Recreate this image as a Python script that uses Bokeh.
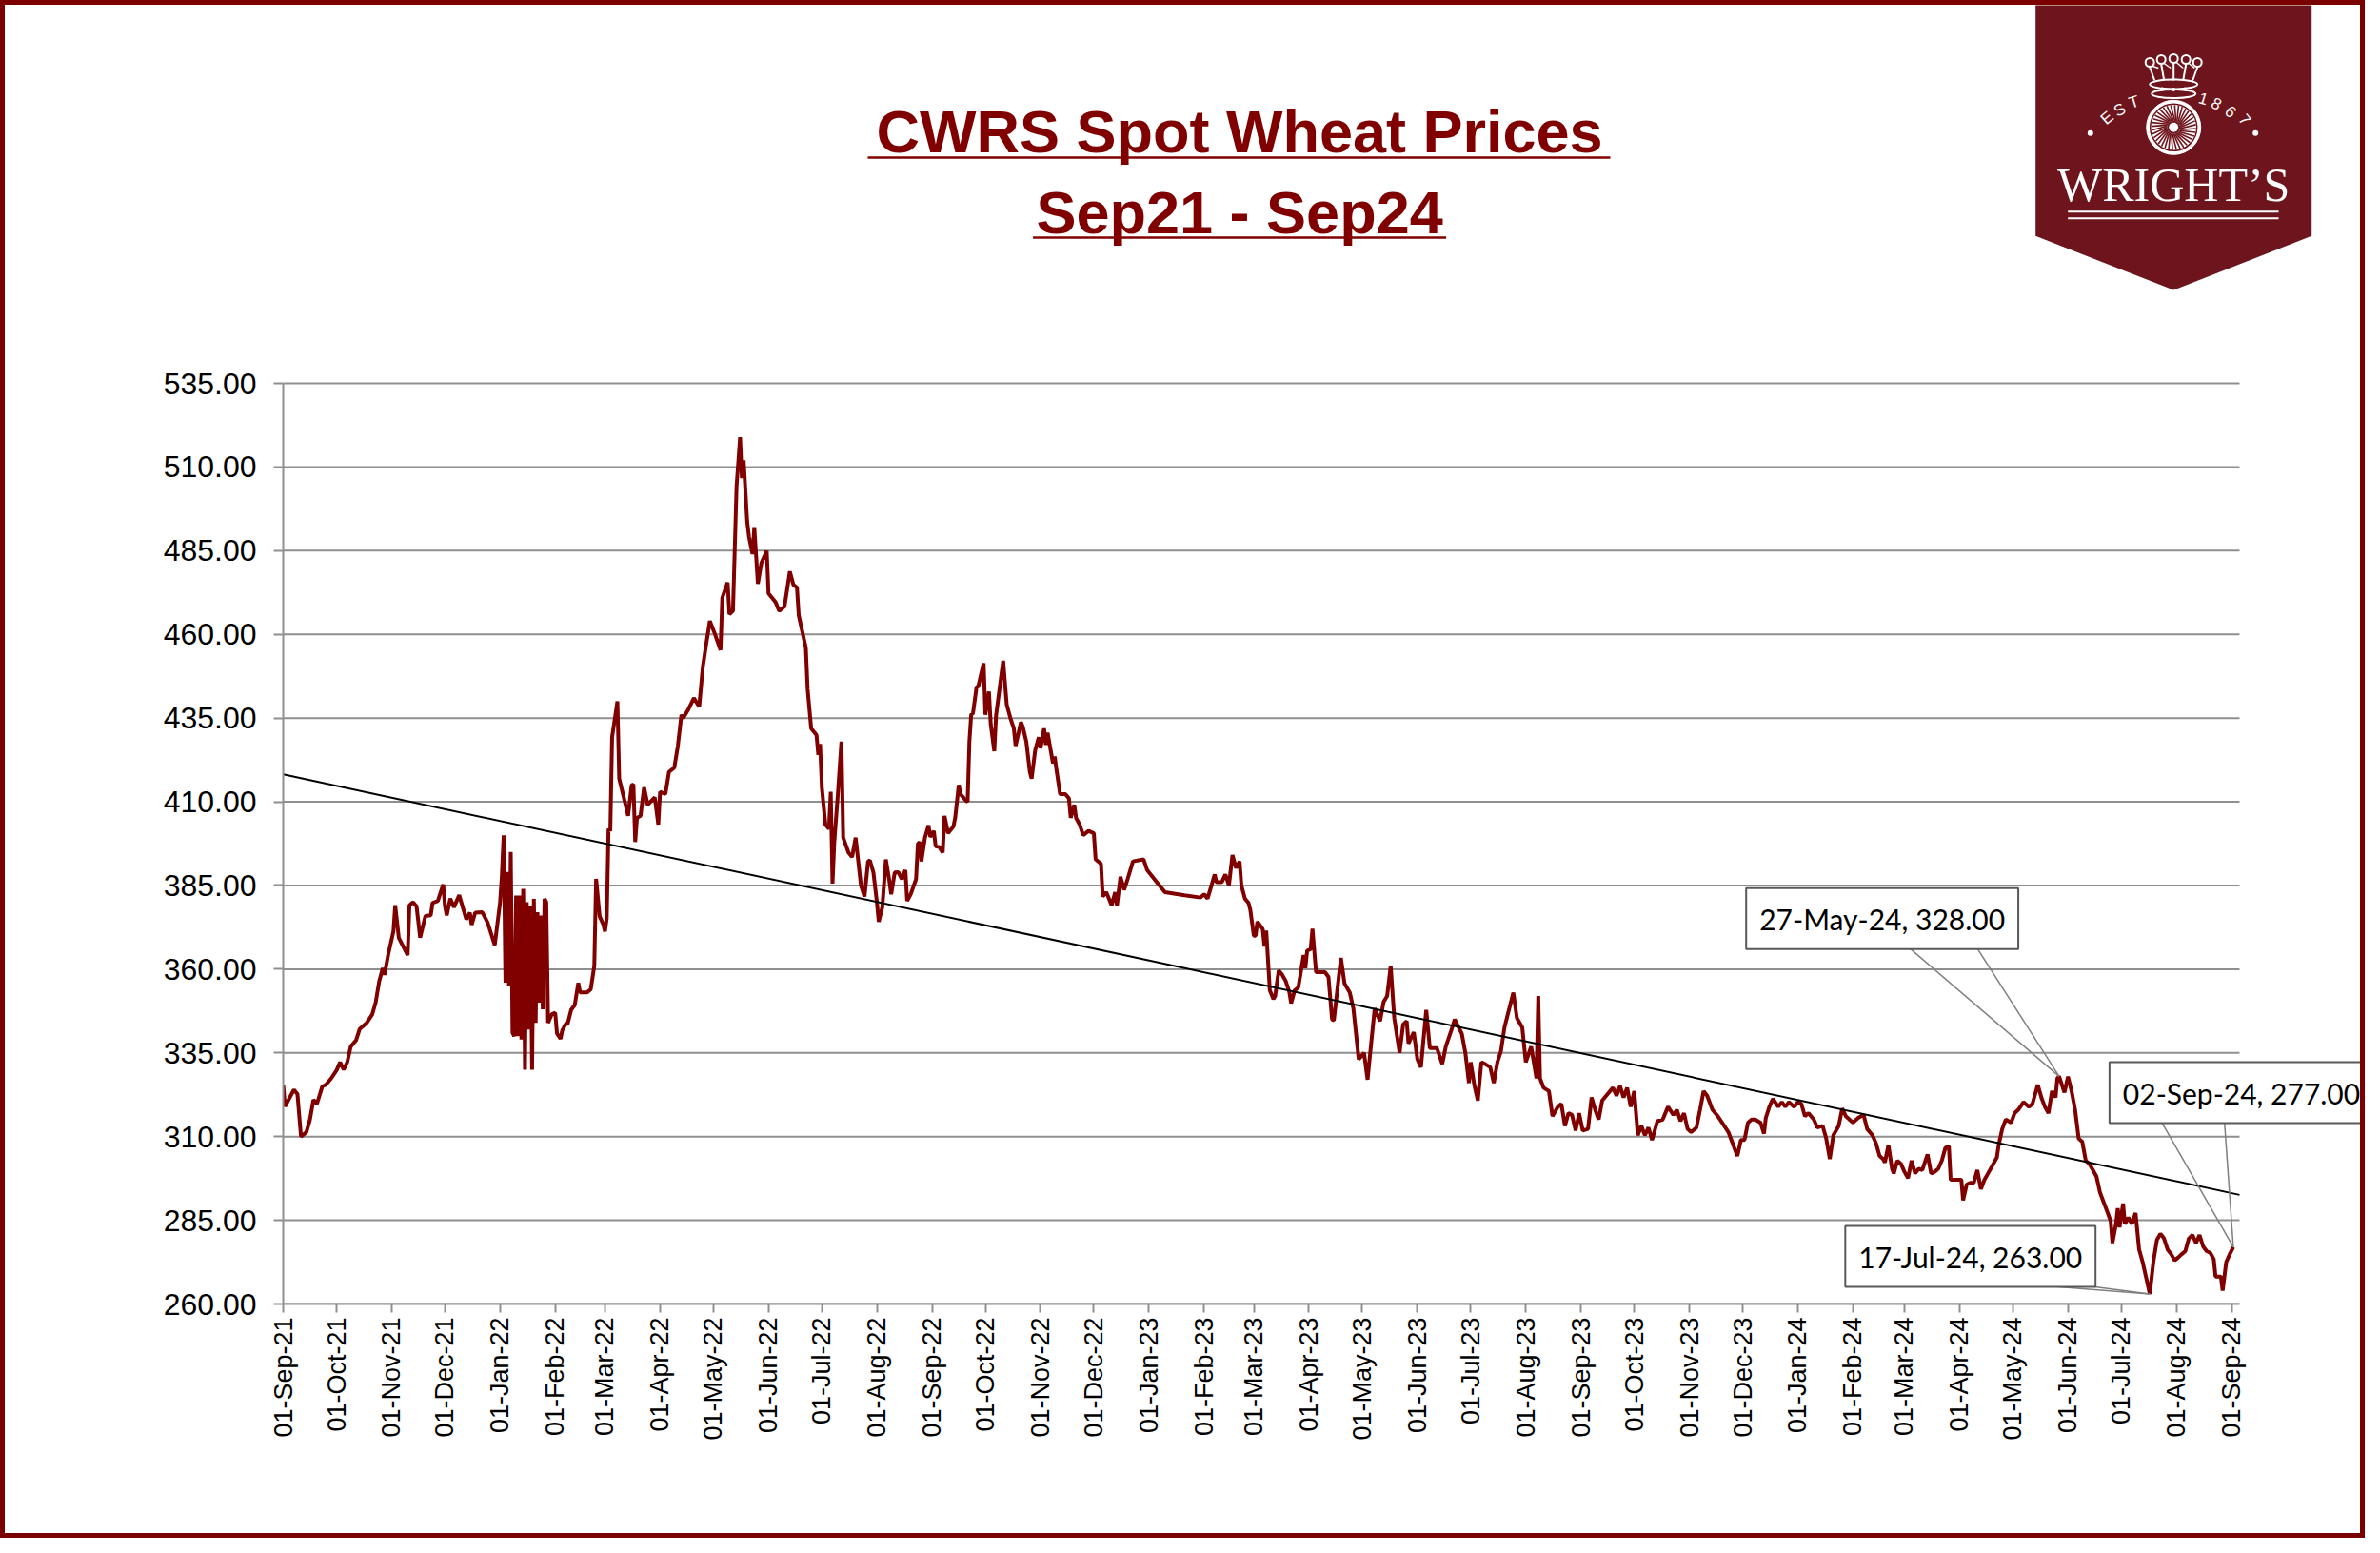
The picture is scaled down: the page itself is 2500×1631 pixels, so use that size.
import math
import numpy as np
import pandas as pd
from bokeh.plotting import figure
from bokeh.layouts import column
from bokeh.models import (ColumnDataSource, Range1d, FixedTicker, NumeralTickFormatter,
                          DatetimeTickFormatter, Label)
from bokeh.core.properties import value
from bokeh.embed import file_html
from bokeh.resources import INLINE

# ---------------- data ----------------
title_line1 = "CWRS Spot Wheat Prices"
title_line2 = "Sep21 - Sep24"
start_date = pd.Timestamp("2021-09-01")

day_offset = [
    0, 1, 4, 6, 8, 10, 13, 15, 17, 19,
    22, 24, 27, 30, 32, 34, 36, 38, 41, 43,
    47, 50, 52, 54, 56, 57, 59, 62, 63, 65,
    70, 71, 73, 75, 77, 80, 83, 84, 87, 90,
    91, 92, 94, 96, 99, 101, 103, 105, 106, 108,
    112, 115, 119, 122, 123, 124, 125, 126, 127, 128,
    129, 130, 131, 132, 133, 134, 135, 136, 137, 138,
    139, 140, 141, 142, 143, 144, 145, 146, 147, 148,
    149, 151, 153, 154, 156, 157, 159, 160, 162, 164,
    166, 167, 171, 173, 175, 176, 178, 180, 181, 182,
    183, 184, 185, 188, 189, 192, 194, 196, 197, 198,
    199, 201, 203, 205, 209, 211, 212, 215, 217, 220,
    222, 224, 225, 228, 231, 234, 236, 238, 240, 243,
    246, 247, 250, 251, 253, 255, 257, 258, 259, 261,
    262, 264, 265, 267, 269, 272, 273, 277, 279, 282,
    285, 287, 289, 290, 294, 295, 297, 300, 301, 302,
    303, 305, 307, 308, 309, 310, 312, 314, 315, 318,
    320, 322, 325, 327, 329, 330, 332, 334, 335, 337,
    339, 341, 342, 344, 346, 348, 350, 351, 353, 356,
    357, 358, 359, 361, 363, 364, 366, 367, 369, 371,
    372, 374, 377, 378, 380, 381, 384, 385, 386, 387,
    388, 390, 391, 394, 395, 396, 397, 398, 400, 401,
    405, 407, 409, 411, 412, 415, 416, 418, 420, 421,
    423, 425, 426, 428, 429, 430, 433, 434, 435, 437,
    440, 442, 443, 445, 446, 448, 450, 453, 456, 457,
    460, 461, 463, 464, 466, 468, 469, 471, 473, 475,
    478, 484, 486, 491, 496, 507, 516, 518, 520, 524,
    525, 528, 530, 532, 533, 534, 536, 538, 539, 541,
    543, 544, 546, 547, 548, 551, 552, 553, 555, 557,
    558, 560, 562, 564, 566, 567, 569, 571, 572, 574,
    575, 576, 578, 579, 581, 586, 588, 590, 591, 593,
    595, 597, 600, 602, 605, 608, 610, 612, 614, 617,
    619, 621, 623, 625, 628, 630, 632, 633, 636, 638,
    640, 643, 645, 649, 652, 654, 657, 659, 663, 665,
    667, 668, 670, 672, 674, 676, 679, 681, 683, 685,
    687, 689, 692, 694, 697, 699, 702, 705, 706, 707,
    709, 712, 714, 717, 719, 721, 723, 725, 727, 729,
    731, 734, 736, 738, 740, 742, 745, 748, 750, 752,
    754, 756, 758, 760, 762, 764, 766, 768, 770, 773,
    776, 779, 782, 784, 786, 788, 790, 792, 795, 797,
    799, 801, 804, 807, 810, 813, 815, 818, 820, 822,
    824, 826, 828, 831, 833, 834, 836, 838, 841, 843,
    845, 847, 850, 852, 854, 856, 858, 861, 863, 866,
    868, 870, 872, 875, 877, 879, 883, 886, 889, 891,
    894, 896, 898, 900, 901, 903, 905, 906, 908, 910,
    912, 914, 916, 918, 920, 922, 925, 927, 929, 931,
    933, 935, 937, 938, 941, 944, 945, 947, 949, 951,
    953, 955, 957, 959, 961, 964, 965, 967, 969, 972,
    974, 976, 979, 982, 984, 987, 989, 991, 993, 995,
    997, 998, 999, 1002, 1004, 1006, 1008, 1010, 1012, 1014,
    1016, 1018, 1020, 1022, 1024, 1026, 1028, 1029, 1031, 1032,
    1033, 1035, 1036, 1038, 1040, 1042, 1044, 1046, 1048, 1050,
    1052, 1054, 1056, 1058, 1060, 1062, 1064, 1066, 1068, 1070,
    1072, 1074, 1076, 1078, 1080, 1082, 1084, 1086, 1087, 1090,
    1091, 1093, 1095, 1097,
]

price = [
    325.5, 319.0, 322.0, 324.0, 322.7, 310.0, 311.3, 315.0, 321.0, 319.8,
    325.0, 325.5, 327.4, 329.8, 332.2, 330.0, 332.2, 336.9, 338.8, 342.1,
    344.0, 346.4, 350.0, 356.4, 360.3, 358.3, 364.2, 371.3, 379.1, 369.4,
    364.2, 379.1, 380.0, 378.8, 369.4, 375.9, 376.1, 379.8, 380.4, 385.3,
    378.8, 376.1, 381.1, 378.5, 382.1, 378.5, 374.9, 376.9, 373.3, 376.9,
    377.0, 373.9, 367.2, 380.0, 388.0, 400.0, 356.0, 389.0, 355.0, 395.0,
    341.0, 340.0, 382.0, 340.0, 382.0, 339.0, 384.0, 330.0, 380.0, 342.0,
    379.0, 330.0, 381.0, 344.0, 377.0, 350.0, 376.0, 348.0, 381.0, 380.0,
    344.0, 346.5, 347.0, 340.8, 339.2, 341.8, 343.7, 343.7, 347.9, 349.3,
    355.9, 353.1, 353.1, 354.0, 361.0, 387.0, 375.8, 373.4, 371.3, 375.2,
    401.9, 401.3, 429.3, 440.0, 416.9, 410.4, 405.8, 414.9, 415.2, 398.0,
    405.2, 405.8, 414.3, 409.1, 411.3, 403.2, 413.0, 412.3, 418.9, 420.2,
    426.7, 436.0, 435.0, 437.7, 441.0, 438.4, 450.1, 457.3, 464.0, 459.9,
    455.3, 470.9, 475.5, 466.0, 467.0, 504.1, 518.9, 506.7, 512.0, 493.7,
    489.2, 484.0, 492.0, 475.1, 481.4, 484.9, 472.2, 469.6, 467.0, 468.3,
    478.8, 474.8, 474.0, 465.7, 456.0, 443.6, 431.9, 429.9, 424.0, 427.3,
    414.3, 403.2, 401.9, 413.0, 385.6, 398.0, 412.3, 428.0, 399.3, 394.8,
    393.5, 399.3, 385.0, 381.7, 392.2, 392.5, 388.9, 379.8, 374.2, 378.5,
    392.8, 386.3, 382.4, 388.9, 389.0, 386.9, 389.6, 380.4, 382.4, 386.9,
    397.4, 398.0, 392.2, 399.3, 403.0, 399.5, 401.3, 396.7, 396.5, 394.8,
    405.8, 400.6, 402.6, 405.2, 415.0, 412.3, 410.4, 410.0, 428.0, 436.0,
    436.4, 444.2, 444.5, 451.4, 436.0, 439.7, 442.9, 433.2, 425.1, 435.8,
    452.1, 439.0, 435.1, 431.9, 426.7, 433.8, 432.5, 428.0, 418.9, 416.9,
    425.4, 429.3, 426.0, 431.9, 427.0, 430.6, 421.5, 423.5, 419.5, 412.3,
    412.3, 411.0, 405.2, 409.1, 405.2, 403.2, 400.0, 401.3, 400.6, 392.8,
    391.5, 381.7, 383.0, 381.7, 379.1, 383.0, 379.1, 387.6, 383.7, 386.9,
    392.2, 392.8, 389.6, 386.3, 383.0, 382.1, 381.4, 382.4, 381.1, 388.3,
    386.0, 386.0, 388.3, 385.0, 389.6, 394.1, 390.2, 392.2, 385.0, 381.1,
    379.8, 377.8, 370.0, 370.0, 374.2, 372.0, 366.8, 371.5, 353.7, 351.1,
    352.0, 359.6, 358.3, 356.4, 353.1, 349.8, 353.7, 354.5, 357.7, 364.2,
    360.3, 365.5, 366.0, 372.1, 359.1, 359.1, 357.7, 345.0, 344.7, 354.0,
    363.4, 355.8, 353.0, 348.3, 333.1, 335.0, 327.0, 337.8, 348.3, 344.5,
    350.2, 352.0, 361.0, 345.4, 335.0, 343.5, 344.5, 337.8, 341.2, 333.1,
    330.7, 347.8, 336.4, 336.4, 331.7, 336.9, 341.6, 345.0, 340.7, 335.0,
    326.0, 332.2, 325.5, 320.8, 332.2, 331.7, 330.7, 326.0, 332.2, 335.5,
    342.6, 346.8, 353.0, 345.4, 342.6, 332.2, 336.9, 327.4, 352.0, 327.4,
    324.6, 323.6, 316.1, 318.9, 319.8, 313.2, 317.0, 316.5, 311.8, 317.0,
    311.8, 312.3, 321.7, 318.0, 315.1, 320.8, 322.7, 324.6, 322.2, 325.1,
    321.7, 324.6, 318.9, 323.6, 310.4, 313.2, 310.4, 312.7, 309.0, 314.6,
    315.1, 318.9, 316.5, 318.0, 314.6, 317.0, 312.3, 311.3, 312.7, 318.0,
    323.6, 322.2, 318.0, 316.1, 313.7, 311.3, 308.5, 304.2, 309.0, 309.0,
    314.2, 315.1, 315.1, 314.2, 310.9, 315.6, 318.9, 321.3, 318.9, 320.3,
    318.9, 320.3, 318.9, 320.3, 319.8, 316.1, 317.0, 315.1, 312.7, 313.2,
    309.4, 303.3, 310.4, 313.2, 318.4, 316.1, 314.2, 315.6, 316.5, 312.3,
    310.4, 308.0, 304.2, 303.3, 302.3, 307.5, 300.4, 299.0, 302.8, 301.9,
    299.5, 297.6, 302.8, 299.0, 300.4, 300.0, 304.7, 299.0, 299.5, 300.4,
    302.8, 306.6, 307.1, 297.1, 297.1, 297.1, 291.0, 295.7, 296.2, 296.2,
    300.0, 294.3, 297.1, 299.0, 300.9, 303.8, 307.5, 312.3, 315.1, 314.2,
    317.0, 318.0, 320.3, 318.9, 319.8, 325.5, 321.7, 318.9, 317.0, 323.6,
    321.7, 327.4, 328.0, 323.2, 327.9, 323.6, 318.0, 309.4, 308.5, 302.8,
    301.9, 300.0, 298.1, 293.3, 290.5, 287.7, 284.8, 278.2, 283.9, 288.6,
    282.9, 290.0, 283.9, 285.8, 283.9, 287.2, 276.3, 272.5, 267.8, 263.0,
    272.5, 279.1, 281.0, 279.6, 276.3, 274.9, 273.0, 273.9, 274.9, 275.8,
    279.6, 280.6, 278.2, 280.6, 277.2, 275.8, 275.3, 273.4, 268.2, 268.2,
    264.0, 272.5, 274.9, 277.0,
]
assert len(day_offset) == len(price)

y_ticks = [260.0, 285.0, 310.0, 335.0, 360.0, 385.0, 410.0, 435.0, 460.0, 485.0, 510.0, 535.0]
y_min, y_max = 260.0, 535.0
x_end_day = 1100.5          # right end of the plot area (gridlines / axis)

# linear trendline (as drawn in the reference)
trend_day = [0.0, 1100.5]
trend_price = [418.2, 292.6]

# data-label callouts
callout_text = ["27-May-24, 328.00", "17-Jul-24, 263.00", "02-Sep-24, 277.00"]
callout_point_day = [999, 1050, 1097]
callout_point_price = [328.0, 263.0, 277.0]
callout_box_day = [899.5, 949.1, 1101.6]
callout_box_price = [375.1, 274.2, 323.1]
callout_base_day_a = [912.0, 961.1, 1055.4]
callout_base_day_b = [951.3, 996.4, 1091.9]
callout_base_price = [367.6, 266.7, 315.5]


def to_dt(days):
    return start_date + pd.to_timedelta(np.asarray(days, dtype=float), unit="D")


def ms(ts):
    return ts.timestamp() * 1000.0


DARK_RED = "#800000"
LOGO_RED = "#6E141C"
GRID = "#8F8F8F"
AXIS = "#8F8F8F"

W = 2474
HEAD_H = 330
CHART_H = 1275
DX, DY = 9, 8               # placement correction measured on the rendered page
LEFT = 283 + DX             # plot-area left, px
PX_PER_DAY = 1.8673
PX_PER_UNIT = 3.52
BASE_FIX = 0.35             # text baseline correction (em)

# ---------------- header (title + logo) ----------------
h = figure(width=W, height=HEAD_H, x_range=Range1d(0, W), y_range=Range1d(0, HEAD_H),
           output_backend="svg", toolbar_location=None, min_border=0, title=None,
           x_axis_location=None, y_axis_location=None)
h.frame_align = False
h.grid.visible = False
h.outline_line_color = None
h.background_fill_color = "white"
h.border_fill_color = "white"


def hx(v):
    return (np.asarray(v, dtype=float) + DX).tolist()


def hy(v):
    return (HEAD_H - (np.asarray(v, dtype=float) + DY)).tolist()


TS = 63
h.text(x=hx([1287.6, 1287.6]), y=hy([147 - BASE_FIX * TS, 232 - BASE_FIX * TS]),
       text=[title_line1, title_line2],
       text_font=value("Liberation Sans"), text_font_style="bold",
       text_font_size=value(f"{TS}px"), text_color=DARK_RED,
       text_align="center", text_baseline="alphabetic")
h.segment(x0=hx([897, 1070.6]), y0=hy([152, 236]), x1=hx([1677, 1504.6]), y1=hy([152, 236]),
          line_color=DARK_RED, line_width=2.5)

# logo banner
cx = 2268.7 + DX
h.patch(x=hx([2123.7, 2413.7, 2413.7, 2268.7, 2123.7]), y=hy([-20, -20, 234.3, 291, 234.3]),
        fill_color=LOGO_RED, line_color=None)
# wheel
wy = hy([120.3])[0]
h.circle(x=[cx], y=[wy], radius=28.5, fill_color="white", line_color="white", line_width=1)
h.circle(x=[cx], y=[wy], radius=24.5, fill_color=None, line_color=LOGO_RED, line_width=1.5)
ang = np.linspace(0, 2 * math.pi, 36, endpoint=False)
h.segment(x0=cx + 7 * np.cos(ang), y0=wy + 7 * np.sin(ang),
          x1=cx + 23.5 * np.cos(ang + 0.3), y1=wy + 23.5 * np.sin(ang + 0.3),
          line_color=LOGO_RED, line_width=1.6)
h.circle(x=[cx], y=[wy], radius=7, fill_color=LOGO_RED, line_color=None)
h.circle(x=[cx], y=[wy], radius=5, fill_color="white", line_color=None)
# crown
crown_x = cx + np.array([-25, -13, 0, 13, 25])
h.circle(x=crown_x, y=hy([52, 49, 48, 49, 52]), radius=4.5, fill_color=None,
         line_color="white", line_width=2)
h.segment(x0=crown_x, y0=hy([57, 54, 53, 54, 57]), x1=cx + np.array([-20, -10, 0, 10, 20]),
          y1=hy([71] * 5), line_color="white", line_width=2)
h.segment(x0=crown_x[:-1] + 3, y0=hy([56, 53, 52, 53]), x1=crown_x[1:] - 3, y1=hy([58, 58, 58, 58]),
          line_color="white", line_width=1.5)
h.ellipse(x=[cx], y=hy([75]), width=50, height=10, fill_color=None, line_color="white", line_width=2)
h.ellipse(x=[cx], y=hy([85]), width=46, height=9, fill_color=None, line_color="white", line_width=2)
h.circle(x=cx + np.array([-12, 0, 12]), y=hy([80, 80.5, 80]), radius=2, fill_color="white", line_color=None)
# EST 1867
h.text(x=hx([2198.7, 2212, 2227, 2300, 2313.7, 2328.7, 2343.7]),
       y=hy([110.3, 102, 93.7, 90, 95.3, 103.7, 112]),
       text=["E", "S", "T", "1", "8", "6", "7"],
       angle=[0.7, 0.5, 0.3, -0.3, -0.5, -0.7, -0.9],
       text_font=value("Liberation Sans"), text_font_size=value("17px"), text_color="white",
       text_align="center", text_baseline="middle")
h.circle(x=hx([2181.3, 2354.7]), y=hy([126.3, 126.3]), radius=3, fill_color="white", line_color=None)
LS = 50
h.text(x=[cx], y=hy([197.7 - BASE_FIX * LS]), text=["WRIGHT\u2019S"], text_font=value("Liberation Serif"),
       text_font_size=value(f"{LS}px"), text_color="white", text_align="center",
       text_baseline="alphabetic")
h.segment(x0=hx([2157.7, 2157.7]), y0=hy([208.7, 215.7]), x1=hx([2379, 2379]), y1=hy([208.7, 215.7]),
          line_color="white", line_width=2)

# ---------------- chart ----------------
src = ColumnDataSource(data=dict(date=to_dt(day_offset), price=price))

frame_w = W - LEFT
x_range_end_day = frame_w / PX_PER_DAY      # frame reaches the right edge (room for callout)
y_pad = 2.0                                 # so the top gridline is fully visible

p = figure(width=W, height=CHART_H, x_axis_type="datetime",
           x_range=Range1d(start_date.to_pydatetime(), to_dt([x_range_end_day])[0].to_pydatetime()),
           y_range=Range1d(y_min, y_max + y_pad),
           output_backend="svg", toolbar_location=None, title=None,
           min_border_left=LEFT, min_border_right=0,
           min_border_top=int(round(59 + DY - y_pad * PX_PER_UNIT)), min_border_bottom=249 - DY)
p.frame_align = False
p.outline_line_color = None
p.background_fill_color = "white"
p.border_fill_color = "white"

month_ticks = pd.date_range("2021-09-01", "2024-09-01", freq="MS")
p.xaxis.ticker = FixedTicker(ticks=[ms(t) for t in month_ticks])
fmt = "%d-%b-%y"
p.xaxis.formatter = DatetimeTickFormatter(days=fmt, months=fmt, years=fmt)
p.xaxis.major_label_orientation = math.pi / 2
p.xaxis.bounds = (ms(start_date), ms(to_dt([x_end_day])[0]))
p.yaxis.ticker = FixedTicker(ticks=y_ticks)
p.yaxis.formatter = NumeralTickFormatter(format="0.00")
p.yaxis.bounds = (y_min, y_max)

for ax in (p.xaxis[0], p.yaxis[0]):
    ax.axis_line_color = AXIS
    ax.axis_line_width = 2
    ax.major_tick_line_color = AXIS
    ax.major_tick_line_width = 2
    ax.major_tick_in = 0
    ax.minor_tick_line_color = None
    ax.major_label_text_font = "Liberation Sans"
    ax.major_label_text_color = "black"
p.yaxis.major_tick_out = 10
p.yaxis.major_label_text_font_size = "32px"
p.yaxis.major_label_standoff = 18
p.xaxis.major_tick_out = 9
p.xaxis.major_label_text_font_size = "27px"
p.xaxis.major_label_standoff = 5

p.grid.visible = False
# horizontal gridlines limited to the plot area
n_t = len(y_ticks)
p.segment(x0=to_dt([0.0] * n_t), y0=y_ticks, x1=to_dt([x_end_day] * n_t), y1=y_ticks,
          line_color=GRID, line_width=2)

p.line("date", "price", source=src, line_color=DARK_RED, line_width=4)
p.line(to_dt(trend_day), trend_price, line_color="black", line_width=2)

p.segment(x0=to_dt(callout_base_day_a), y0=callout_base_price,
          x1=to_dt(callout_point_day), y1=callout_point_price,
          line_color="#7F7F7F", line_width=1.5)
p.segment(x0=to_dt(callout_base_day_b), y0=callout_base_price,
          x1=to_dt(callout_point_day), y1=callout_point_price,
          line_color="#7F7F7F", line_width=1.5)

for txt, bd, bp in zip(callout_text, callout_box_day, callout_box_price):
    p.add_layout(Label(x=ms(to_dt([bd])[0]), y=bp, x_units="data", y_units="data", text=txt,
                       text_font="Lato", text_font_size="30px", text_color="black",
                       text_align="center", text_baseline="middle",
                       background_fill_color="white", border_line_color="#595959",
                       border_line_width=2, padding=14))

layout = column(h, p, styles={"border": "5px solid #7B0000", "background-color": "white"})

with open("out.html", "w") as f:
    f.write(file_html(layout, INLINE))
